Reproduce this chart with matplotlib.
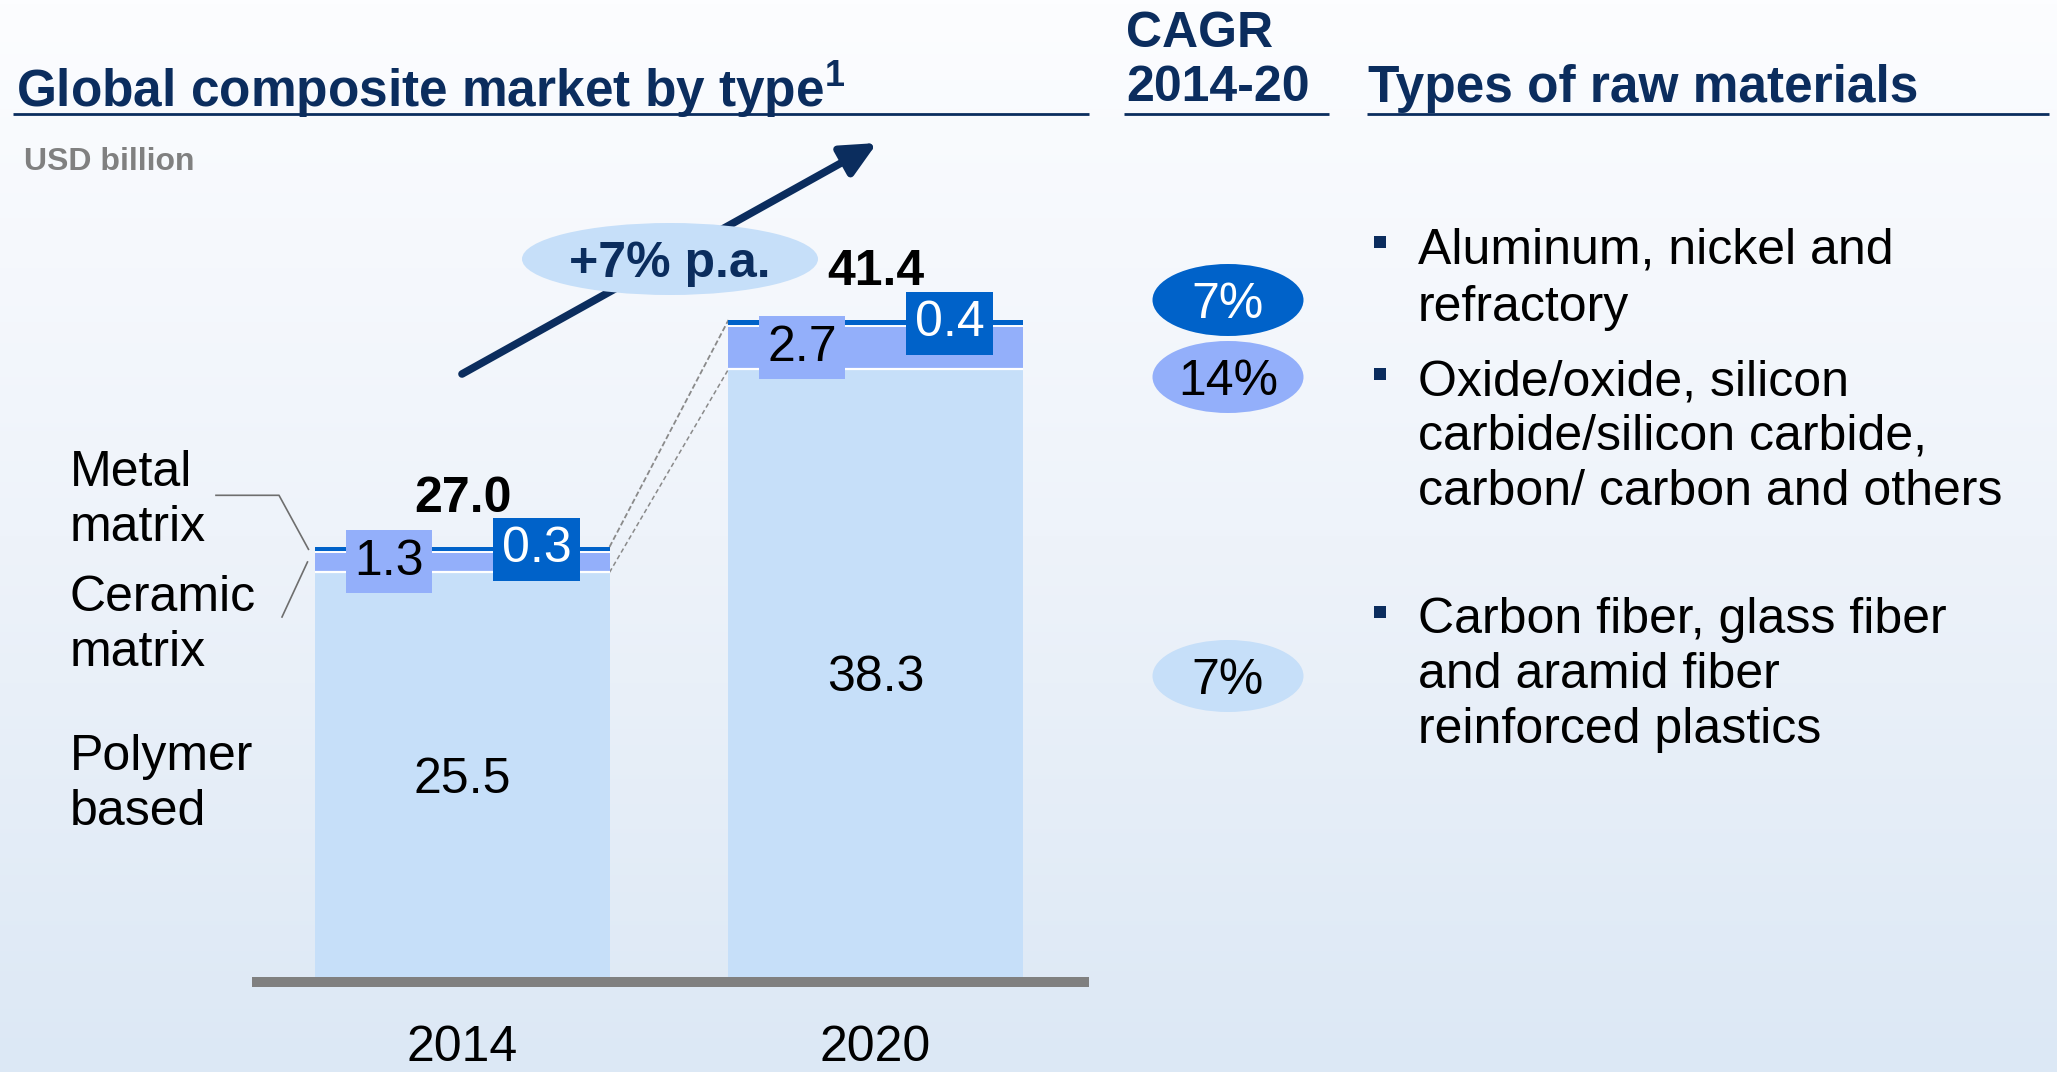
import numpy as np
import matplotlib
matplotlib.use("Agg")
import matplotlib.pyplot as plt
from matplotlib.patches import Ellipse, FancyArrowPatch, Rectangle
from matplotlib.colors import LinearSegmentedColormap

# ---------------- data ----------------
years = ["2014", "2020"]
polymer = [25.5, 38.3]
ceramic = [1.3, 2.7]
metal = [0.3, 0.4]
totals = [27.0, 41.4]
segment_names = ["Polymer\nbased", "Ceramic\nmatrix", "Metal\nmatrix"]
cagr_values = ["7%", "14%", "7%"]          # metal, ceramic, polymer
growth_label = "+7% p.a."
unit_label = "USD billion"
title_left = "Global composite market by type$^{\\mathbf{1}}$"
title_mid = ["CAGR", "2014-20"]
title_right = "Types of raw materials"
raw_materials = [
    ["Aluminum, nickel and", "refractory"],
    ["Oxide/oxide, silicon", "carbide/silicon carbide,", "carbon/ carbon and others"],
    ["Carbon fiber, glass fiber", "and aramid fiber", "reinforced plastics"],
]

# ---------------- style ----------------
plt.rcParams["font.family"] = ["Liberation Sans", "DejaVu Sans"]
plt.rcParams["mathtext.fontset"] = "custom"
plt.rcParams["mathtext.rm"] = "Liberation Sans"
plt.rcParams["mathtext.bf"] = "Liberation Sans:bold"

NAVY = "#0B2D5E"
C_POLY = "#C6DFF9"
C_CER = "#93AFFA"
C_MET = "#0062C9"
GREY_LINE = "#6E6E6E"
FS = 36

W, H = 2057, 1072
fig = plt.figure(figsize=(W / 100, H / 100), dpi=100)

# background gradient
bg = fig.add_axes([0, 0, 1, 1], zorder=0)
cmap = LinearSegmentedColormap.from_list("bg", ["#FCFDFF", "#EEF3FA", "#DCE8F5"])
grad = np.linspace(0, 1, 256).reshape(-1, 1)
bg.imshow(grad, aspect="auto", cmap=cmap, extent=[0, 1, 1, 0])
bg.set_axis_off()

# ---------------- bar axes ----------------
px_per_unit = 15.87
base_px = 977
top_px = 116
ax = fig.add_axes([252 / W, (H - base_px) / H, (1089 - 252) / W, (base_px - top_px) / H], zorder=2)
ax.set_facecolor("none")
x = np.arange(len(years))
bw = 0.712
ax.set_xlim(-0.5097, 1.5169)
ax.set_ylim(0, (base_px - top_px) / px_per_unit)

poly = np.array(polymer)
cer = np.array(ceramic)
met = np.array(metal)
ax.bar(x, poly, width=bw, color=C_POLY, zorder=2)
ax.bar(x, cer, width=bw, bottom=poly, color=C_CER, zorder=2)
ax.bar(x, met, width=bw, bottom=poly + cer, color=C_MET, zorder=2)
ax.hlines(poly, x - bw / 2, x + bw / 2, colors="white", lw=1.6, zorder=3)
ax.hlines(poly + cer, x - bw / 2, x + bw / 2, colors="white", lw=1.4, zorder=3)

for s in ["top", "left", "right"]:
    ax.spines[s].set_visible(False)
ax.spines["bottom"].set_color("#808080")
ax.spines["bottom"].set_linewidth(7.2)
ax.spines["bottom"].set_capstyle("butt")
ax.spines["bottom"].set_position(("outward", 3.6))
ax.set_yticks([])
ax.set_xticks(x)
ax.set_xticklabels(years, fontsize=FS, color="black")
ax.tick_params(axis="x", length=0, pad=31)

# value labels
for i in range(len(years)):
    ax.text(x[i], poly[i] / 2, f"{polymer[i]:.1f}", ha="center", va="center_baseline",
            fontsize=FS, color="black", zorder=5)
    ax.text(x[i] - 0.178, poly[i] + cer[i] / 2, f"{ceramic[i]:.1f}", ha="center", va="center",
            fontsize=FS, color="black", zorder=5,
            bbox=dict(boxstyle="square,pad=0.17", fc=C_CER, ec="none"))
    ax.text(x[i] + 0.18, poly[i] + cer[i] + met[i] / 2, f"{metal[i]:.1f}", ha="center", va="center",
            fontsize=FS, color="white", zorder=5,
            bbox=dict(boxstyle="square,pad=0.17", fc=C_MET, ec="none"))
    ax.annotate(f"{totals[i]:.1f}", (x[i], poly[i] + cer[i] + met[i]), xytext=(0, 38),
                textcoords="offset points", ha="center", va="center_baseline",
                fontsize=FS, fontweight="bold", color="black", zorder=5)

# connectors between bars
tops = poly + cer + met
ax.plot([x[0] + bw / 2, x[1] - bw / 2], [tops[0], tops[1]], color="#8A8A8A", lw=1.3,
        ls=(0, (3, 1.5)), zorder=1)
ax.plot([x[0] + bw / 2, x[1] - bw / 2], [poly[0], poly[1]], color="#8A8A8A", lw=1.1,
        ls=(0, (3, 2)), zorder=1)

# ---------------- overlay (pixel coords) ----------------
ov = fig.add_axes([0, 0, 1, 1], zorder=3)
ov.set_xlim(0, W)
ov.set_ylim(H, 0)
ov.set_axis_off()
ov.set_facecolor("none")


def to_px(xd, yd):
    dx, dy = ax.transData.transform((xd, yd))
    return dx, H - dy


# headers
ov.text(16, 83, title_left, fontsize=FS + 1, fontweight="bold", color=NAVY, va="center_baseline", ha="left")
ov.text(1126, 29, title_mid[0], fontsize=FS, fontweight="bold", color=NAVY, va="center_baseline", ha="left")
ov.text(1126, 83, title_mid[1], fontsize=FS, fontweight="bold", color=NAVY, va="center_baseline", ha="left")
ov.text(1368, 83, title_right, fontsize=FS + 1, fontweight="bold", color=NAVY, va="center_baseline", ha="left")
for x0, x1 in [(13, 1089), (1124, 1329), (1367, 2049)]:
    ov.plot([x0, x1], [114, 114], color=NAVY, lw=2.0, solid_capstyle="butt")
ov.text(24, 159, unit_label, fontsize=23, fontweight="bold", color="#808080", va="center_baseline", ha="left")

# segment names on the left
name_y = {"Polymer\nbased": (752, 807), "Ceramic\nmatrix": (593, 648), "Metal\nmatrix": (468, 523)}
for nm in segment_names:
    l1, l2 = nm.split("\n")
    y1, y2 = name_y[nm]
    ov.text(70, y1, l1, fontsize=FS, color="black", va="center_baseline", ha="left")
    ov.text(70, y2, l2, fontsize=FS, color="black", va="center_baseline", ha="left")

# leader lines
mx, my = to_px(x[0] - bw / 2, poly[0] + cer[0] + met[0] / 2)
ov.plot([216, 279, mx - 7], [my - 54, my - 54, my], color=GREY_LINE, lw=1.2)
cx, cy = to_px(x[0] - bw / 2, poly[0] + cer[0] / 2)
ov.plot([282, cx - 8], [cy + 55, cy], color=GREY_LINE, lw=1.2)

# growth arrow and bubble
arr = FancyArrowPatch((462, 374), (877, 143), arrowstyle="-|>,head_length=1.05,head_width=0.5",
                      mutation_scale=20, lw=5.5, color=NAVY, shrinkA=0, shrinkB=0, zorder=2)
ov.add_patch(arr)
ov.add_patch(Ellipse((670, 259), 296, 72, fc=C_POLY, ec="none", zorder=3))
ov.text(670, 259, growth_label, fontsize=FS, fontweight="bold", color=NAVY, ha="center",
        va="center_baseline", zorder=4)

# CAGR bubbles
cagr_y = [300, 377, 676]
cagr_fc = [C_MET, C_CER, C_POLY]
cagr_tc = ["white", "black", "black"]
for val, yy, fc, tc in zip(cagr_values, cagr_y, cagr_fc, cagr_tc):
    ov.add_patch(Ellipse((1228, yy), 151, 72, fc=fc, ec="none", zorder=3))
    ov.text(1228, yy, val, fontsize=FS, color=tc, ha="center", va="center_baseline", zorder=4)

# raw materials bullets
line_y = [[245, 303], [377, 432, 487], [615, 670, 725]]
for lines, ys in zip(raw_materials, line_y):
    ov.add_patch(Rectangle((1374, ys[0] - 9), 12, 12, fc=NAVY, ec="none", zorder=4))
    for txt, yy in zip(lines, ys):
        ov.text(1418, yy, txt, fontsize=FS, color="black", ha="left", va="center_baseline")

fig.savefig("out.png", dpi=100)
